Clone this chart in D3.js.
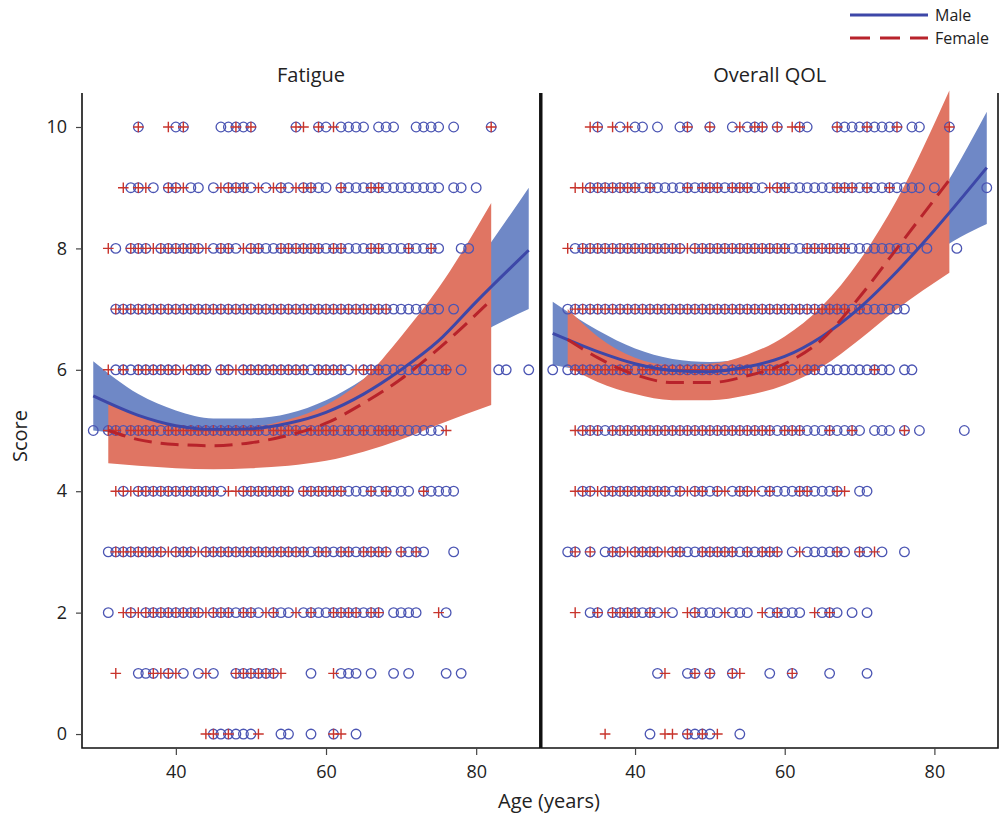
<!DOCTYPE html>
<html>
<head>
<meta charset="utf-8">
<script src="https://cdn.jsdelivr.net/npm/d3@7"></script>
<style>
  body { margin: 0; background: #fff; }
  svg text { font-family: "Open Sans", "Noto Sans", sans-serif; fill: #222; }
</style>
</head>
<body>
<svg id="chart" width="1001" height="814"></svg>
<script>
// ── Data: ages of respondents per score (index = score 0..10) ────────────────
const scores = [0, 1, 2, 3, 4, 5, 6, 7, 8, 9, 10];
const yTicks = [0, 2, 4, 6, 8, 10];
const xTicks = [40, 60, 80];
const panelTitles = ['Fatigue', 'Overall QOL'];

const fatigueMale = [
  [45,46,47,48,49,50,54,55,58,61,64],
  [35,36,37,39,41,43,45,48,49,50,51,52,53,58,62,63,64,66,69,71,76,78],
  [31,34,36,37,38,39,40,41,42,43,45,46,47,48,49,50,51,53,54,55,57,58,59,60,61,62,63,64,65,66,67,69,70,71,72,76],
  [31,32,33,34,35,36,37,38,40,41,42,44,45,46,47,48,49,50,51,52,53,54,55,56,57,58,59,60,61,62,63,64,65,66,67,68,70,71,72,73,77],
  [33,35,36,37,38,39,40,41,42,43,44,45,46,49,50,51,52,53,54,55,57,58,59,60,61,62,63,64,65,66,67,68,69,70,71,73,74,75,76,77],
  [29,31,32,33,34,35,36,37,38,39,40,41,42,43,44,45,46,47,48,49,50,51,52,53,54,55,56,57,58,59,60,61,62,63,64,65,66,67,68,69,70,71,72,73,74,75],
  [32,33,34,35,36,37,38,39,40,42,43,44,46,47,49,50,51,52,53,54,55,56,57,58,59,60,61,62,63,65,66,67,68,69,70,71,72,73,74,75,76,78,83,84,87],
  [32,33,34,35,36,37,38,39,40,41,42,43,44,45,46,47,48,49,50,51,52,53,54,55,56,57,58,59,60,61,62,63,64,65,66,67,68,69,70,71,72,73,74,75,77],
  [32,34,35,36,38,39,40,41,42,43,45,46,47,48,50,51,52,53,54,55,56,57,58,59,60,61,62,63,64,65,66,67,68,69,70,71,72,73,74,75,78,79],
  [34,35,37,39,40,42,43,45,47,48,49,50,52,54,55,57,58,59,60,62,63,64,65,66,67,68,69,70,71,72,73,74,75,77,78,80],
  [35,40,41,46,47,48,49,50,56,59,60,62,63,64,65,67,68,69,72,73,74,75,77,82]
];
const fatigueFemale = [
  [44,45,47,51,61,62],
  [32,37,38,39,40,44,48,49,50,51,52,53,54,61],
  [33,34,35,36,37,38,39,40,41,42,43,44,45,46,47,49,50,52,53,56,58,61,62,63,64,66,67,75],
  [32,33,34,35,36,37,38,39,40,41,42,43,44,45,46,47,48,49,50,51,52,53,54,55,56,57,59,60,62,63,65,66,67,68,70,72],
  [32,33,34,35,36,37,38,39,40,41,42,43,44,45,47,48,49,50,51,52,53,54,55,57,58,59,60,61,62,66,68,73],
  [31,32,34,35,36,37,39,40,41,42,43,44,45,46,47,48,49,50,51,53,54,55,56,58,59,60,61,63,65,67,68,69,76],
  [31,33,35,36,37,38,39,40,41,42,43,44,46,47,48,49,50,51,52,53,54,55,56,57,59,60,61,62,64,65,66,67,76],
  [32,33,34,35,36,37,38,39,40,41,42,43,44,45,46,47,48,49,50,51,52,53,54,55,56,57,58,59,60,61,62,63,64,65,66,67,68],
  [31,34,35,36,37,38,39,40,41,42,43,44,46,47,49,50,51,54,55,56,57,58,59,61,62,66,67,71,74],
  [33,35,36,39,40,41,46,47,48,49,51,53,54,56,57,58,62,66,67],
  [35,39,41,48,50,56,57,59,61,82]
];
const qolMale = [
  [42,47,48,49,50,54],
  [43,47,48,50,53,58,61,66,71],
  [34,35,37,38,39,40,41,42,43,45,48,49,50,51,53,54,55,58,59,60,61,62,65,66,67,69,71],
  [31,32,34,36,37,38,40,41,42,43,45,46,47,48,49,50,51,52,53,54,55,56,57,58,59,61,63,64,65,66,67,68,70,71,73,76],
  [33,34,36,37,38,39,40,41,42,43,44,45,46,48,49,50,51,53,54,55,57,58,59,60,61,62,63,64,65,66,67,70,71],
  [33,34,35,36,37,38,39,40,41,42,43,44,45,46,47,48,49,50,51,52,53,54,55,56,57,58,59,60,61,62,63,64,65,66,67,68,69,70,72,73,74,76,78,84],
  [29,31,32,33,34,35,36,37,38,39,40,41,42,43,44,45,46,47,48,49,50,51,52,53,54,55,56,57,58,59,60,61,63,64,65,66,67,68,69,70,71,72,73,74,76,77],
  [31,32,33,34,35,36,37,38,39,40,41,42,43,44,45,46,47,48,49,50,51,52,53,54,55,56,57,58,59,60,61,62,63,64,65,66,67,68,69,70,71,72,73,74,75,76],
  [32,33,34,35,36,37,38,39,40,41,42,43,44,45,46,48,49,50,51,52,53,54,55,56,57,58,59,60,61,62,63,64,65,66,67,68,69,70,71,72,73,74,75,76,77,79,83],
  [34,35,36,37,38,39,40,41,42,43,44,45,46,47,48,49,50,51,52,53,54,55,56,57,59,60,61,62,63,64,65,66,67,68,69,70,71,72,73,74,75,76,77,78,80,87],
  [35,38,40,41,43,46,47,50,53,55,56,57,59,62,63,67,68,69,70,71,72,73,74,75,77,78,82]
];
const qolFemale = [
  [36,44,45,47,49,51],
  [44,48,50,53,54,61],
  [32,35,37,38,39,40,42,44,47,48,52,57,59,64,66],
  [32,34,37,38,39,40,41,42,43,44,45,46,49,50,51,52,53,55,57,58,59,62,67,70,72],
  [32,33,34,35,36,37,38,39,40,41,42,43,44,46,47,48,49,51,52,54,55,56,58,62,63,67,68],
  [32,33,34,35,37,38,39,40,41,42,43,44,45,46,47,48,49,50,51,52,53,54,55,56,57,58,60,61,62,66,69,76],
  [32,33,34,35,36,37,38,39,41,42,43,44,45,46,47,48,49,50,51,53,54,55,57,58,59,60,62,63,64,72],
  [32,33,34,35,36,37,38,39,40,41,42,43,44,45,46,47,48,49,50,51,52,53,54,55,56,57,58,59,60,61,62,63,64,65,66,67,68,70],
  [31,33,34,35,36,37,38,39,40,41,42,43,44,45,46,47,48,49,50,51,52,53,54,55,56,57,58,59,60,63,64,65,66,67,68],
  [32,33,34,35,36,37,38,39,40,42,47,49,50,51,53,54,55,58,59,60,67,68,69,71,74],
  [34,35,37,39,47,50,54,56,57,59,61,62,67,71,75,82]
];

// ── Fitted curves with confidence bands ────────────────────────────────────
const maleFitAges   = [29, 35, 40, 45, 50, 55, 60, 65, 70, 75, 80, 87];
const femaleFitAges = [31, 35, 40, 45, 50, 55, 60, 65, 70, 75, 82];

const fatigueMaleFit   = [5.57, 5.25, 5.08, 5.02, 5.03, 5.12, 5.30, 5.60, 6.00, 6.48, 7.12, 7.97];
const fatigueMaleUpper = [6.14, 5.60, 5.33, 5.20, 5.20, 5.28, 5.50, 5.85, 6.30, 6.90, 7.75, 9.00];
const fatigueMaleLower = [5.00, 4.92, 4.85, 4.85, 4.87, 4.95, 5.10, 5.35, 5.70, 6.10, 6.55, 7.00];
const fatigueFemaleFit   = [5.00, 4.85, 4.77, 4.75, 4.80, 4.92, 5.12, 5.45, 5.85, 6.35, 7.15];
const fatigueFemaleUpper = [5.47, 5.25, 5.10, 5.04, 5.06, 5.18, 5.42, 5.85, 6.55, 7.35, 8.75];
const fatigueFemaleLower = [4.46, 4.42, 4.38, 4.36, 4.38, 4.42, 4.50, 4.65, 4.85, 5.10, 5.42];

const qolMaleFit   = [6.60, 6.30, 6.10, 5.99, 5.97, 6.05, 6.22, 6.55, 7.02, 7.62, 8.30, 9.33];
const qolMaleUpper = [7.12, 6.65, 6.35, 6.18, 6.13, 6.20, 6.40, 6.75, 7.28, 7.95, 8.75, 10.25];
const qolMaleLower = [6.08, 5.95, 5.85, 5.80, 5.80, 5.88, 6.02, 6.33, 6.75, 7.30, 7.90, 8.40];
const qolFemaleFit   = [6.50, 6.20, 5.92, 5.79, 5.79, 5.90, 6.10, 6.50, 7.20, 8.00, 9.13];
const qolFemaleUpper = [7.00, 6.55, 6.20, 6.08, 6.10, 6.25, 6.55, 7.05, 7.80, 8.80, 10.60];
const qolFemaleLower = [6.05, 5.80, 5.60, 5.50, 5.50, 5.58, 5.75, 6.05, 6.50, 7.00, 7.60];

const panels = [
  { title: panelTitles[0], male: fatigueMale, female: fatigueFemale,
    mFit: fatigueMaleFit, mUp: fatigueMaleUpper, mLo: fatigueMaleLower,
    fFit: fatigueFemaleFit, fUp: fatigueFemaleUpper, fLo: fatigueFemaleLower },
  { title: panelTitles[1], male: qolMale, female: qolFemale,
    mFit: qolMaleFit, mUp: qolMaleUpper, mLo: qolMaleLower,
    fFit: qolFemaleFit, fUp: qolFemaleUpper, fLo: qolFemaleLower }
];

// ── Styling ────────────────────────────────────────────────────────────────
const BLUE = '#3d47a8', BLUE_BAND = '#6f88c6', BLUE_PT = '#4b55b3';
const RED = '#b8232b', RED_BAND = '#e07563', RED_PT = '#c8342c';

const svg = d3.select('#chart');
const panelX = [[82, 540], [541.5, 998]];
const plotTop = 93, plotBottom = 748;

const y = d3.scaleLinear().domain([-0.23, 10.56]).range([plotBottom, plotTop]);

panels.forEach((p, i) => {
  const [x0, x1] = panelX[i];
  const x = d3.scaleLinear().domain([27.5, 88.5]).range([x0, x1]);
  const g = svg.append('g').attr('class', `panel-${i}`);

  // ── Confidence bands ──
  const area = ages => d3.area()
    .x((d, k) => x(ages[k]))
    .y0(d => y(d[0]))
    .y1(d => y(d[1]))
    .curve(d3.curveMonotoneX);
  g.append('path')
    .datum(p.mLo.map((v, k) => [v, p.mUp[k]]))
    .attr('d', area(maleFitAges))
    .attr('fill', BLUE_BAND);
  g.append('path')
    .datum(p.fLo.map((v, k) => [v, p.fUp[k]]))
    .attr('d', area(femaleFitAges))
    .attr('fill', RED_BAND);

  // ── Points: male circles, female pluses ──
  const malePts = [], femalePts = [];
  scores.forEach(s => {
    p.male[s].forEach(a => malePts.push({ age: a, score: s }));
    p.female[s].forEach(a => femalePts.push({ age: a, score: s }));
  });
  g.append('g').selectAll('circle')
    .data(malePts)
    .join('circle')
      .attr('cx', d => x(d.age))
      .attr('cy', d => y(d.score))
      .attr('r', 4.8)
      .attr('fill', 'none')
      .attr('stroke', BLUE_PT)
      .attr('stroke-width', 1.3);
  g.append('g').selectAll('path')
    .data(femalePts)
    .join('path')
      .attr('d', d => {
        const cx = x(d.age), cy = y(d.score), h = 5.3;
        return `M${cx - h},${cy}H${cx + h}M${cx},${cy - h}V${cy + h}`;
      })
      .attr('stroke', RED_PT)
      .attr('stroke-width', 1.4);

  // ── Fit lines ──
  const line = ages => d3.line()
    .x((d, k) => x(ages[k]))
    .y(d => y(d))
    .curve(d3.curveMonotoneX);
  g.append('path')
    .datum(p.mFit)
    .attr('d', line(maleFitAges))
    .attr('fill', 'none')
    .attr('stroke', BLUE)
    .attr('stroke-width', 3);
  g.append('path')
    .datum(p.fFit)
    .attr('d', line(femaleFitAges))
    .attr('fill', 'none')
    .attr('stroke', RED)
    .attr('stroke-width', 3)
    .attr('stroke-dasharray', '18,9');

  // ── Frame: left, right, bottom ──
  g.append('path')
    .attr('d', `M${x0},${plotTop}V${plotBottom}H${x1}V${plotTop}`)
    .attr('fill', 'none')
    .attr('stroke', '#111')
    .attr('stroke-width', 1.6);

  // ── X axis ──
  const xa = g.append('g')
    .attr('transform', `translate(0,${plotBottom})`)
    .call(d3.axisBottom(x).tickValues(xTicks).tickSize(7).tickPadding(10));
  xa.select('.domain').remove();
  xa.selectAll('line').attr('stroke', '#444').attr('stroke-width', 1.2);
  xa.selectAll('text').attr('font-size', 18).attr('fill', '#333');

  // ── Panel title ──
  g.append('text')
    .attr('x', (x0 + x1) / 2)
    .attr('y', 82)
    .attr('text-anchor', 'middle')
    .attr('font-size', 20)
    .text(p.title);
});

// thick divider between panels
svg.append('line')
  .attr('x1', 540.8).attr('x2', 540.8)
  .attr('y1', plotTop).attr('y2', plotBottom)
  .attr('stroke', '#111').attr('stroke-width', 3);

// ── Y axis ──
const ya = svg.append('g')
  .attr('transform', `translate(${panelX[0][0]},0)`)
  .call(d3.axisLeft(y).tickValues(yTicks).tickSize(6).tickPadding(9));
ya.select('.domain').remove();
ya.selectAll('line').attr('stroke', '#444').attr('stroke-width', 1.2);
ya.selectAll('text').attr('font-size', 18).attr('fill', '#333');

// ── Axis titles ──
svg.append('text')
  .attr('x', 549).attr('y', 808)
  .attr('text-anchor', 'middle')
  .attr('font-size', 20)
  .text('Age (years)');
svg.append('text')
  .attr('transform', 'translate(27,436) rotate(-90)')
  .attr('text-anchor', 'middle')
  .attr('font-size', 20)
  .text('Score');

// ── Legend ──
const legend = svg.append('g').attr('class', 'legend');
[{ label: 'Male', color: BLUE, dash: null, y: 15 },
 { label: 'Female', color: RED, dash: '20,10', y: 38 }].forEach(d => {
  legend.append('line')
    .attr('x1', 850).attr('x2', 928)
    .attr('y1', d.y).attr('y2', d.y)
    .attr('stroke', d.color)
    .attr('stroke-width', 3)
    .attr('stroke-dasharray', d.dash);
  legend.append('text')
    .attr('x', 935).attr('y', d.y)
    .attr('dominant-baseline', 'central')
    .attr('font-size', 16)
    .text(d.label);
});
</script>
</body>
</html>
